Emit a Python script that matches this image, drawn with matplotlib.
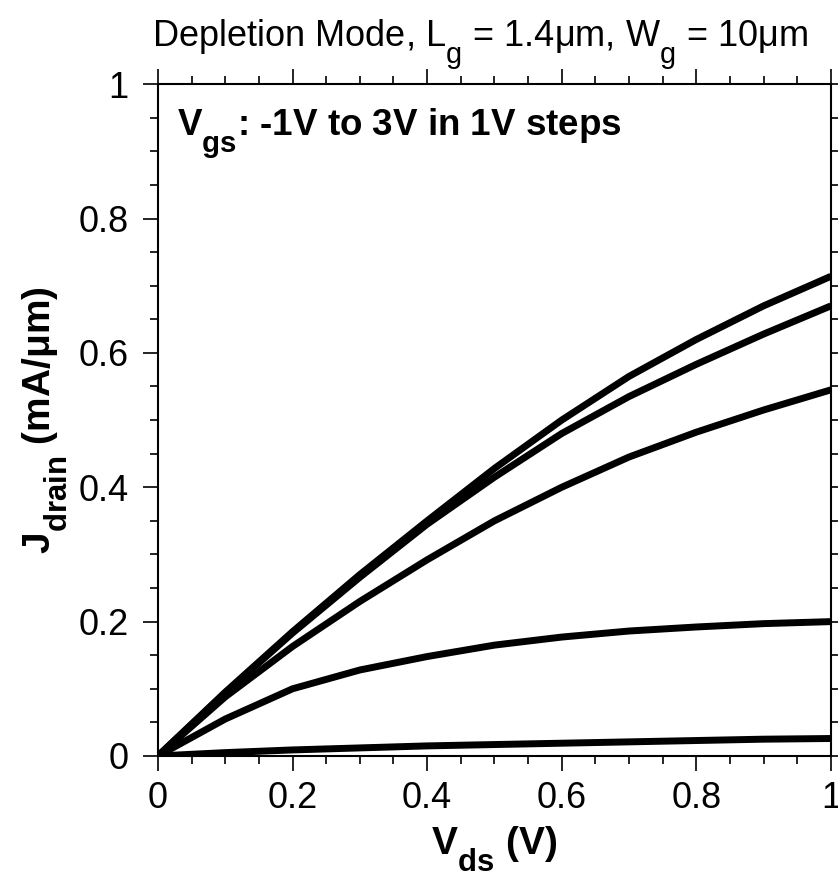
import numpy as np
import matplotlib
matplotlib.use('Agg')
import matplotlib.pyplot as plt
import matplotlib._mathtext as mt

plt.rcParams['font.family'] = ['Liberation Sans', 'DejaVu Sans']
plt.rcParams['mathtext.default'] = 'regular'
# bigger, deeper subscripts like the original plot
mt.SHRINK_FACTOR = 0.8
mt.FontConstantsBase.sub1 = 0.85

# drain current density vs Vds, Vgs = 3V (top) ... -1V (bottom)
vds = [0.0, 0.1, 0.2, 0.3, 0.4, 0.5, 0.6, 0.7, 0.8, 0.9, 1.0]
j_vgs3 = [0.0, 0.095, 0.185, 0.270, 0.350, 0.428, 0.500, 0.565, 0.620, 0.670, 0.714]
j_vgs2 = [0.0, 0.094, 0.183, 0.266, 0.345, 0.415, 0.480, 0.535, 0.583, 0.628, 0.670]
j_vgs1 = [0.0, 0.088, 0.163, 0.230, 0.292, 0.350, 0.400, 0.445, 0.482, 0.515, 0.545]
j_vgs0 = [0.0, 0.055, 0.100, 0.128, 0.148, 0.165, 0.177, 0.186, 0.192, 0.197, 0.200]
j_vgsm1 = [0.0, 0.005, 0.009, 0.012, 0.015, 0.017, 0.019, 0.021, 0.023, 0.025, 0.026]

curves = [j_vgs3, j_vgs2, j_vgs1, j_vgs0, j_vgsm1]

ticks = [0, 0.2, 0.4, 0.6, 0.8, 1.0]
tick_labels = ['0', '0.2', '0.4', '0.6', '0.8', '1']
minor_ticks = np.arange(0, 1.0001, 0.05)

fig = plt.figure(figsize=(8.38, 8.77), dpi=100)
ax = fig.add_axes([0.1885, 0.138, 0.803, 0.766])

for j in curves:
    ax.plot(vds, j, color='black', lw=5, solid_capstyle='butt')

ax.set_xlim(0, 1)
ax.set_ylim(0, 1)
ax.set_xticks(ticks, tick_labels)
ax.set_yticks(ticks, tick_labels)
ax.set_xticks(minor_ticks, minor=True)
ax.set_yticks(minor_ticks, minor=True)

ax.tick_params(which='both', direction='out', top=True, right=True, labelsize=26, color='black')
ax.tick_params(which='major', length=11, width=1.2)
ax.tick_params(axis='y', which='major', pad=10)
ax.tick_params(axis='x', which='major', pad=7)
ax.tick_params(which='minor', length=6, width=1.2)
for s in ax.spines.values():
    s.set_linewidth(1.5)

ax.set_xlabel('V$_{ds}$ (V)', fontsize=28, fontweight='bold', labelpad=6)
ax.set_ylabel('J$_{drain}$ (mA/μm)', fontsize=28, fontweight='bold', labelpad=6)

ax.text(0.028, 0.924, 'V$_{gs}$: -1V to 3V in 1V steps', transform=ax.transAxes,
        fontsize=26.5, fontweight='bold', va='baseline', ha='left')

fig.text(0.573, 0.9475, 'Depletion Mode, L$_g$ = 1.4μm, W$_g$ = 10μm',
         fontsize=26, ha='center', va='baseline')

fig.savefig('out.png', dpi=100)
